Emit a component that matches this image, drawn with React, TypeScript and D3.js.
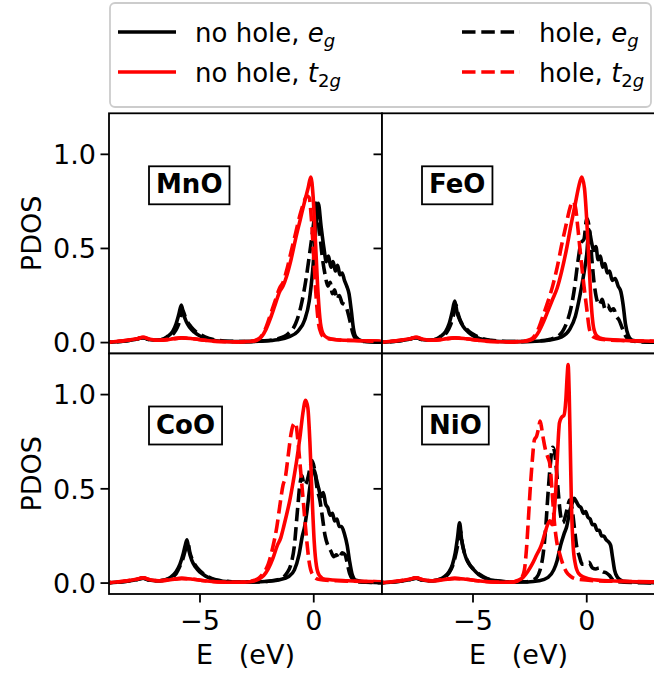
import React, { useLayoutEffect, useRef, useState } from "react";
import * as d3 from "d3";

type Pt = [number, number];

// ---------- data ----------
const eDomain: [number, number] = [-9, 3];
const yDomain: [number, number] = [-0.058, 1.218];
const xTickValues = [-5, 0];
const xTickLabels = ["\u22125", "0"];
const yTickValues = [0, 0.5, 1.0];
const yTickLabels = ["0.0", "0.5", "1.0"];
const compounds = ["MnO", "FeO", "CoO", "NiO"];

const egLowTail: Pt[] = [[-9.5, 0], [-8.8, 0.003], [-8.2, 0.01], [-7.8, 0.018], [-7.5, 0.026], [-7.25, 0.016], [-6.9, 0.012]];
const t2gLowTail: Pt[] = [[-9.5, 0], [-8.8, 0.004], [-8.2, 0.012], [-7.8, 0.02], [-7.5, 0.028], [-7.2, 0.018], [-6.8, 0.012], [-6.3, 0.018], [-5.8, 0.025], [-5.3, 0.02], [-4.8, 0.012], [-4.2, 0.006], [-3.4, 0.004]];

// MnO
const mnoEgNoHole: Pt[] = [...egLowTail, [-6.6, 0.02], [-6.4, 0.035], [-6.2, 0.06], [-6.05, 0.1], [-5.93, 0.15], [-5.82, 0.2], [-5.72, 0.15], [-5.6, 0.11], [-5.45, 0.08], [-5.25, 0.055], [-5.0, 0.035], [-4.7, 0.02], [-4.3, 0.01], [-3.8, 0.006], [-3.0, 0.005], [-2.2, 0.008], [-1.6, 0.015], [-1.1, 0.03], [-0.7, 0.06], [-0.4, 0.12], [-0.2, 0.22], [-0.05, 0.38], [0.08, 0.58], [0.2, 0.74], [0.32, 0.62], [0.45, 0.5], [0.55, 0.43], [0.65, 0.46], [0.75, 0.4], [0.85, 0.43], [0.95, 0.38], [1.05, 0.41], [1.15, 0.36], [1.25, 0.37], [1.35, 0.33], [1.45, 0.3], [1.55, 0.26], [1.65, 0.17], [1.75, 0.07], [1.85, 0.03], [2.1, 0.01], [2.6, 0.004], [4, 0]];
const mnoEgHole: Pt[] = [...egLowTail, [-6.6, 0.018], [-6.35, 0.03], [-6.15, 0.05], [-6.0, 0.08], [-5.88, 0.12], [-5.76, 0.17], [-5.66, 0.14], [-5.55, 0.11], [-5.4, 0.085], [-5.2, 0.06], [-4.95, 0.04], [-4.6, 0.022], [-4.2, 0.012], [-3.7, 0.007], [-3.0, 0.005], [-2.2, 0.009], [-1.6, 0.02], [-1.1, 0.05], [-0.8, 0.1], [-0.55, 0.2], [-0.35, 0.33], [-0.15, 0.5], [0.0, 0.64], [0.12, 0.76], [0.25, 0.6], [0.38, 0.45], [0.5, 0.36], [0.62, 0.3], [0.72, 0.32], [0.82, 0.26], [0.92, 0.28], [1.02, 0.23], [1.12, 0.25], [1.25, 0.21], [1.38, 0.2], [1.5, 0.16], [1.62, 0.1], [1.72, 0.05], [1.85, 0.02], [2.2, 0.006], [4, 0]];
const mnoT2gNoHole: Pt[] = [...t2gLowTail, [-2.8, 0.006], [-2.5, 0.012], [-2.3, 0.03], [-2.1, 0.07], [-1.9, 0.13], [-1.7, 0.2], [-1.5, 0.27], [-1.35, 0.3], [-1.2, 0.35], [-1.0, 0.44], [-0.8, 0.55], [-0.6, 0.65], [-0.4, 0.75], [-0.25, 0.82], [-0.13, 0.88], [-0.03, 0.78], [0.07, 0.55], [0.17, 0.3], [0.27, 0.13], [0.4, 0.05], [0.6, 0.025], [1.0, 0.015], [2.0, 0.01], [3.0, 0.007], [4, 0.004]];
const mnoT2gHole: Pt[] = [...t2gLowTail, [-2.8, 0.007], [-2.5, 0.015], [-2.3, 0.035], [-2.1, 0.08], [-1.9, 0.15], [-1.7, 0.22], [-1.5, 0.29], [-1.35, 0.32], [-1.2, 0.38], [-1.0, 0.48], [-0.8, 0.58], [-0.6, 0.68], [-0.45, 0.74], [-0.3, 0.78], [-0.2, 0.77], [-0.1, 0.65], [0.0, 0.45], [0.1, 0.25], [0.2, 0.11], [0.32, 0.05], [0.5, 0.025], [1.0, 0.015], [2.0, 0.01], [3.0, 0.007], [4, 0.004]];

// FeO
const feoEgNoHole: Pt[] = [...egLowTail, [-6.6, 0.02], [-6.4, 0.035], [-6.2, 0.06], [-6.05, 0.1], [-5.92, 0.16], [-5.8, 0.22], [-5.7, 0.16], [-5.58, 0.12], [-5.43, 0.085], [-5.23, 0.058], [-5.0, 0.037], [-4.7, 0.021], [-4.3, 0.011], [-3.8, 0.006], [-3.0, 0.005], [-2.2, 0.007], [-1.6, 0.014], [-1.1, 0.03], [-0.75, 0.07], [-0.5, 0.14], [-0.3, 0.25], [-0.15, 0.35], [0.0, 0.47], [0.1, 0.6], [0.2, 0.54], [0.3, 0.49], [0.4, 0.51], [0.5, 0.44], [0.6, 0.46], [0.7, 0.4], [0.8, 0.42], [0.9, 0.37], [1.0, 0.38], [1.12, 0.33], [1.25, 0.34], [1.38, 0.3], [1.5, 0.27], [1.6, 0.2], [1.7, 0.1], [1.82, 0.04], [2.0, 0.012], [2.6, 0.004], [4, 0]];
const feoEgHole: Pt[] = [...egLowTail, [-6.6, 0.018], [-6.35, 0.03], [-6.15, 0.055], [-6.0, 0.09], [-5.87, 0.14], [-5.75, 0.2], [-5.65, 0.15], [-5.53, 0.11], [-5.38, 0.085], [-5.18, 0.06], [-4.93, 0.04], [-4.6, 0.022], [-4.2, 0.012], [-3.7, 0.007], [-3.0, 0.005], [-2.2, 0.008], [-1.6, 0.018], [-1.2, 0.04], [-0.9, 0.1], [-0.7, 0.18], [-0.55, 0.28], [-0.4, 0.42], [-0.25, 0.53], [-0.12, 0.55], [0.0, 0.66], [0.12, 0.6], [0.22, 0.45], [0.32, 0.32], [0.42, 0.24], [0.55, 0.2], [0.68, 0.23], [0.8, 0.18], [0.92, 0.2], [1.05, 0.17], [1.18, 0.18], [1.3, 0.14], [1.42, 0.12], [1.55, 0.08], [1.68, 0.04], [1.85, 0.015], [2.2, 0.005], [4, 0]];
const feoT2gNoHole: Pt[] = [...t2gLowTail, [-2.8, 0.006], [-2.5, 0.012], [-2.3, 0.025], [-2.1, 0.06], [-1.9, 0.11], [-1.7, 0.17], [-1.5, 0.23], [-1.3, 0.29], [-1.1, 0.38], [-0.9, 0.49], [-0.7, 0.62], [-0.5, 0.74], [-0.35, 0.83], [-0.22, 0.88], [-0.1, 0.82], [0.0, 0.65], [0.1, 0.42], [0.2, 0.2], [0.3, 0.08], [0.45, 0.035], [0.7, 0.02], [1.5, 0.012], [3.0, 0.007], [4, 0.004]];
const feoT2gHole: Pt[] = [...t2gLowTail, [-2.8, 0.007], [-2.5, 0.015], [-2.3, 0.035], [-2.1, 0.08], [-1.9, 0.15], [-1.7, 0.22], [-1.5, 0.3], [-1.3, 0.4], [-1.1, 0.52], [-0.9, 0.63], [-0.75, 0.71], [-0.62, 0.75], [-0.5, 0.72], [-0.4, 0.62], [-0.3, 0.5], [-0.15, 0.33], [0.0, 0.18], [0.12, 0.07], [0.3, 0.03], [0.6, 0.018], [1.5, 0.011], [3.0, 0.007], [4, 0.004]];

// CoO
const cooEgNoHole: Pt[] = [...egLowTail, [-6.6, 0.015], [-6.3, 0.03], [-6.05, 0.06], [-5.88, 0.1], [-5.75, 0.15], [-5.65, 0.2], [-5.57, 0.23], [-5.48, 0.17], [-5.36, 0.12], [-5.2, 0.085], [-5.0, 0.058], [-4.75, 0.037], [-4.45, 0.02], [-4.0, 0.01], [-3.4, 0.006], [-2.6, 0.006], [-2.0, 0.01], [-1.5, 0.018], [-1.1, 0.035], [-0.85, 0.07], [-0.65, 0.15], [-0.5, 0.25], [-0.4, 0.3], [-0.3, 0.38], [-0.18, 0.5], [-0.08, 0.58], [0.02, 0.6], [0.12, 0.55], [0.22, 0.5], [0.32, 0.46], [0.42, 0.48], [0.52, 0.42], [0.62, 0.4], [0.72, 0.36], [0.82, 0.37], [0.92, 0.33], [1.02, 0.34], [1.12, 0.3], [1.22, 0.3], [1.35, 0.26], [1.47, 0.2], [1.57, 0.12], [1.68, 0.05], [1.85, 0.015], [2.4, 0.004], [4, 0]];
const cooEgHole: Pt[] = [...egLowTail, [-6.6, 0.015], [-6.3, 0.028], [-6.05, 0.05], [-5.88, 0.09], [-5.75, 0.13], [-5.63, 0.18], [-5.53, 0.21], [-5.44, 0.16], [-5.32, 0.12], [-5.15, 0.085], [-4.95, 0.06], [-4.7, 0.038], [-4.4, 0.021], [-3.95, 0.011], [-3.4, 0.006], [-2.6, 0.006], [-2.0, 0.01], [-1.5, 0.02], [-1.2, 0.05], [-1.0, 0.1], [-0.85, 0.2], [-0.72, 0.38], [-0.6, 0.53], [-0.52, 0.57], [-0.42, 0.52], [-0.3, 0.54], [-0.18, 0.6], [-0.08, 0.65], [0.04, 0.6], [0.15, 0.5], [0.27, 0.44], [0.38, 0.35], [0.5, 0.25], [0.62, 0.2], [0.75, 0.17], [0.88, 0.14], [1.0, 0.15], [1.12, 0.13], [1.25, 0.16], [1.38, 0.15], [1.48, 0.1], [1.58, 0.05], [1.72, 0.02], [2.0, 0.006], [4, 0]];
const cooT2gNoHole: Pt[] = [...t2gLowTail, [-2.9, 0.006], [-2.6, 0.012], [-2.4, 0.022], [-2.2, 0.04], [-2.0, 0.075], [-1.8, 0.13], [-1.6, 0.2], [-1.45, 0.24], [-1.32, 0.3], [-1.2, 0.36], [-1.05, 0.44], [-0.9, 0.54], [-0.75, 0.65], [-0.6, 0.78], [-0.48, 0.9], [-0.36, 0.97], [-0.26, 0.93], [-0.17, 0.75], [-0.08, 0.48], [0.02, 0.22], [0.12, 0.09], [0.25, 0.04], [0.5, 0.02], [1.5, 0.012], [3.0, 0.007], [4, 0.004]];
const cooT2gHole: Pt[] = [...t2gLowTail, [-2.9, 0.007], [-2.6, 0.015], [-2.4, 0.028], [-2.2, 0.055], [-2.0, 0.1], [-1.8, 0.19], [-1.62, 0.3], [-1.48, 0.42], [-1.35, 0.52], [-1.25, 0.56], [-1.12, 0.68], [-1.0, 0.79], [-0.9, 0.84], [-0.8, 0.85], [-0.7, 0.76], [-0.58, 0.6], [-0.45, 0.42], [-0.32, 0.24], [-0.2, 0.11], [-0.05, 0.045], [0.2, 0.02], [1.0, 0.012], [3.0, 0.007], [4, 0.004]];

// NiO
const nioEgNoHole: Pt[] = [...egLowTail, [-6.6, 0.015], [-6.3, 0.03], [-6.05, 0.06], [-5.9, 0.1], [-5.78, 0.16], [-5.68, 0.24], [-5.59, 0.32], [-5.5, 0.23], [-5.38, 0.16], [-5.22, 0.11], [-5.0, 0.075], [-4.75, 0.045], [-4.45, 0.025], [-4.0, 0.012], [-3.4, 0.006], [-2.6, 0.006], [-2.1, 0.012], [-1.7, 0.03], [-1.45, 0.07], [-1.3, 0.12], [-1.15, 0.2], [-1.0, 0.26], [-0.88, 0.3], [-0.75, 0.38], [-0.65, 0.42], [-0.55, 0.45], [-0.45, 0.43], [-0.35, 0.41], [-0.25, 0.4], [-0.15, 0.37], [-0.05, 0.38], [0.05, 0.35], [0.15, 0.34], [0.25, 0.31], [0.35, 0.31], [0.45, 0.28], [0.55, 0.28], [0.65, 0.25], [0.75, 0.25], [0.85, 0.23], [0.95, 0.22], [1.05, 0.2], [1.13, 0.14], [1.22, 0.07], [1.35, 0.03], [1.6, 0.01], [2.5, 0.004], [4, 0]];
const nioEgHole: Pt[] = [...egLowTail, [-6.6, 0.015], [-6.3, 0.028], [-6.05, 0.055], [-5.9, 0.09], [-5.78, 0.14], [-5.66, 0.21], [-5.56, 0.28], [-5.47, 0.21], [-5.35, 0.15], [-5.18, 0.105], [-4.97, 0.072], [-4.7, 0.045], [-4.4, 0.025], [-3.95, 0.012], [-3.4, 0.006], [-2.7, 0.007], [-2.4, 0.015], [-2.2, 0.03], [-2.05, 0.07], [-1.92, 0.15], [-1.8, 0.3], [-1.7, 0.48], [-1.6, 0.63], [-1.5, 0.72], [-1.42, 0.7], [-1.33, 0.6], [-1.25, 0.48], [-1.15, 0.36], [-1.05, 0.32], [-0.95, 0.35], [-0.85, 0.4], [-0.75, 0.44], [-0.65, 0.4], [-0.55, 0.3], [-0.45, 0.2], [-0.32, 0.14], [-0.2, 0.1], [-0.05, 0.1], [0.1, 0.11], [0.25, 0.08], [0.4, 0.075], [0.55, 0.08], [0.7, 0.06], [0.85, 0.055], [1.0, 0.04], [1.12, 0.02], [1.3, 0.008], [2, 0.003], [4, 0]];
const nioT2gNoHole: Pt[] = [...t2gLowTail, [-3.0, 0.015], [-2.8, 0.03], [-2.6, 0.06], [-2.4, 0.1], [-2.2, 0.15], [-2.0, 0.2], [-1.85, 0.26], [-1.72, 0.31], [-1.62, 0.33], [-1.52, 0.31], [-1.44, 0.36], [-1.36, 0.5], [-1.28, 0.7], [-1.2, 0.85], [-1.1, 0.88], [-1.0, 0.89], [-0.92, 0.97], [-0.86, 1.1], [-0.82, 1.16], [-0.77, 1.0], [-0.72, 0.7], [-0.67, 0.4], [-0.6, 0.2], [-0.5, 0.1], [-0.35, 0.05], [-0.1, 0.03], [0.3, 0.018], [1.5, 0.01], [3.0, 0.006], [4, 0.004]];
const nioT2gHole: Pt[] = [...t2gLowTail, [-3.0, 0.012], [-2.85, 0.03], [-2.74, 0.07], [-2.65, 0.18], [-2.57, 0.33], [-2.49, 0.49], [-2.4, 0.64], [-2.3, 0.76], [-2.2, 0.78], [-2.12, 0.82], [-2.05, 0.86], [-1.98, 0.82], [-1.9, 0.76], [-1.82, 0.71], [-1.72, 0.67], [-1.62, 0.63], [-1.52, 0.48], [-1.42, 0.32], [-1.32, 0.22], [-1.2, 0.16], [-1.05, 0.1], [-0.9, 0.06], [-0.7, 0.035], [-0.4, 0.02], [0.5, 0.012], [2, 0.008], [4, 0.004]];

const panelSeries = [
  { egNoHole: mnoEgNoHole, egHole: mnoEgHole, t2gNoHole: mnoT2gNoHole, t2gHole: mnoT2gHole },
  { egNoHole: feoEgNoHole, egHole: feoEgHole, t2gNoHole: feoT2gNoHole, t2gHole: feoT2gHole },
  { egNoHole: cooEgNoHole, egHole: cooEgHole, t2gNoHole: cooT2gNoHole, t2gHole: cooT2gHole },
  { egNoHole: nioEgNoHole, egHole: nioEgHole, t2gNoHole: nioT2gNoHole, t2gHole: nioT2gHole },
];

// ---------- layout ----------
const W = 654;
const H = 677;
const colX = [109, 382];
const panelW = 273;
const rowY = [113.3, 353.5];
const panelH = [240.2, 240.5];
const FONT = "DejaVu Sans, sans-serif";
const FS = 27;
const LEG_FS = 26;
const LW = 3.6;
const DASH = "13.5,5.8";
const RED = "#ff0000";
const TICK = 8.5;

function LabelBox({ x, y, text, top }: { x: number; y: number; text: string; top: number }) {
  const ref = useRef<SVGTextElement>(null);
  const [bb, setBb] = useState<{ x: number; w: number } | null>(null);
  useLayoutEffect(() => {
    if (ref.current) {
      const b = ref.current.getBBox();
      setBb({ x: b.x, w: b.width });
    }
  }, [text]);
  return (
    <g>
      {bb && (
        <rect x={bb.x - 7} y={top} width={bb.w + 14} height={38} fill="white" stroke="black" strokeWidth={1.8} />
      )}
      <text ref={ref} x={x} y={y} fontFamily={FONT} fontWeight="bold" fontSize={26} fill="black">
        {text}
      </text>
    </g>
  );
}

function Panel({ idx }: { idx: number }) {
  const col = idx % 2;
  const row = Math.floor(idx / 2);
  const left = colX[col];
  const top = rowY[row];
  const h = panelH[row];
  const x = d3.scaleLinear().domain(eDomain).range([left, left + panelW]);
  const y = d3.scaleLinear().domain(yDomain).range([top + h, top]);
  const line = d3
    .line<Pt>()
    .x((d) => x(d[0]))
    .y((d) => y(d[1]))
    .curve(d3.curveMonotoneX);
  const s = panelSeries[idx];
  const clipId = `clip-${idx}`;
  return (
    <g>
      <defs>
        <clipPath id={clipId}>
          <rect x={left} y={top} width={panelW} height={h} />
        </clipPath>
      </defs>
      <rect x={left} y={top} width={panelW} height={h} fill="white" />
      <g clipPath={`url(#${clipId})`} fill="none" strokeLinejoin="round">
        <path d={line(s.egNoHole) || ""} stroke="black" strokeWidth={LW} />
        <path d={line(s.egHole) || ""} stroke="black" strokeWidth={LW} strokeDasharray={DASH} />
        <path d={line(s.t2gHole) || ""} stroke={RED} strokeWidth={LW} strokeDasharray={DASH} />
        <path d={line(s.t2gNoHole) || ""} stroke={RED} strokeWidth={LW} />
      </g>
      <rect x={left} y={top} width={panelW} height={h} fill="none" stroke="black" strokeWidth={1.8} />
      {yTickValues.map((v, i) => (
        <line key={"yt" + i} x1={left - TICK} x2={left} y1={y(v)} y2={y(v)} stroke="black" strokeWidth={1.8} />
      ))}
      {col === 0 &&
        yTickValues.map((v, i) => (
          <text key={"yl" + i} x={96} y={y(v)} dy="0.36em" textAnchor="end" fontFamily={FONT} fontSize={FS}>
            {yTickLabels[i]}
          </text>
        ))}
      {row === 1 &&
        xTickValues.map((v, i) => (
          <g key={"xt" + i}>
            <line x1={x(v)} x2={x(v)} y1={top + h} y2={top + h + TICK} stroke="black" strokeWidth={1.8} />
            <text x={x(v)} y={top + h + TICK + 27} textAnchor="middle" fontFamily={FONT} fontSize={FS}>
              {xTickLabels[i]}
            </text>
          </g>
        ))}
      {row === 1 && (
        <text x={left + panelW / 2} y={664} textAnchor="middle" fontFamily={FONT} fontSize={FS} style={{ whiteSpace: "pre" }}>
          {"E   (eV)"}
        </text>
      )}
      {col === 0 && (
        <text
          transform={`translate(31,${top + h / 2}) rotate(-90)`}
          textAnchor="middle"
          dy="0.36em"
          fontFamily={FONT}
          fontSize={FS}
        >
          PDOS
        </text>
      )}
      <LabelBox x={left + 47} y={top + 80} top={top + 53} text={compounds[idx]} />
    </g>
  );
}

function LegendEntry({ x, y, color, dashed, label, sub }: { x: number; y: number; color: string; dashed: boolean; label: string; sub: "eg" | "t2g" }) {
  return (
    <g>
      <line x1={x} x2={x + 58} y1={y} y2={y} stroke={color} strokeWidth={LW} strokeDasharray={dashed ? DASH : undefined} />
      <text x={x + 77} y={y + 9.5} fontFamily={FONT} fontSize={LEG_FS} style={{ whiteSpace: "pre" }}>
        {label}
        {sub === "eg" ? (
          <>
            <tspan fontStyle="italic">e</tspan>
            <tspan fontStyle="italic" fontSize={18} dy={5.5}>g</tspan>
          </>
        ) : (
          <>
            <tspan fontStyle="italic">t</tspan>
            <tspan fontSize={18} dy={5.5}>2</tspan>
            <tspan fontStyle="italic" fontSize={18}>g</tspan>
          </>
        )}
      </text>
    </g>
  );
}

export default function App() {
  return (
    <svg width={W} height={H} style={{ position: "absolute", left: 0, top: 0, background: "white" }} xmlns="http://www.w3.org/2000/svg">
      <rect x={0} y={0} width={W} height={H} fill="white" />
      {[0, 1, 2, 3].map((i) => (
        <Panel key={i} idx={i} />
      ))}
      <rect x={110} y={3} width={541} height={104} rx={5} fill="white" fillOpacity={0.85} stroke="#cccccc" strokeWidth={1.8} />
      <LegendEntry x={118} y={32} color="black" dashed={false} label="no hole, " sub="eg" />
      <LegendEntry x={118} y={72} color={RED} dashed={false} label="no hole, " sub="t2g" />
      <LegendEntry x={462} y={32} color="black" dashed={true} label="hole, " sub="eg" />
      <LegendEntry x={462} y={72} color={RED} dashed={true} label="hole, " sub="t2g" />
    </svg>
  );
}
